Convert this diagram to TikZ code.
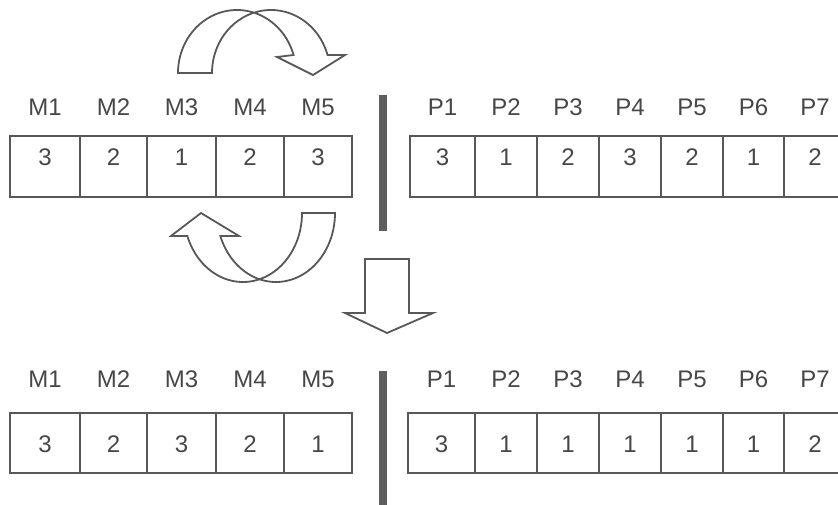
\documentclass[tikz,border=0pt]{standalone}
\usepackage{fontspec}
\setmainfont{Liberation Sans}
\definecolor{boxgray}{HTML}{585858}
\definecolor{txtgray}{HTML}{474747}
\definecolor{bargray}{HTML}{5E5E5E}
\begin{document}
\begin{tikzpicture}[x=1pt,y=-1pt,
  cell/.style={draw=boxgray, line width=1.8pt, inner sep=0pt},
  digit/.style={anchor=base, inner sep=0pt, text=txtgray, font=\fontsize{24}{24}\selectfont},
  tag/.style={anchor=base, inner sep=0pt, text=txtgray, font=\fontsize{24}{24}\selectfont},
  blockarrow/.style={draw=boxgray, line width=1.8pt, fill=white, line join=miter},
  divider/.style={fill=bargray}]
\useasboundingbox (0,0) rectangle (838,504);
\clip (0,0) rectangle (838,504);

% ---- upper chromosome: machine part ----
\foreach \xa/\xb/\val [count=\i] in {10/80/3, 80/147/2, 147/216/1, 216/284/2, 284/352/3} {
  \node[cell, minimum width={(\xb-\xa)*1pt}, minimum height=61pt] (mt\i) at ({(\xa+\xb)/2},166.5) {};
  \node[digit] (mtv\i) at ({(\xa+\xb)/2},165) {\val};
  \node[tag] (mtl\i) at ({(\xa+\xb)/2},115) {M\i};
}
% ---- upper chromosome: part sequence ----
\foreach \xa/\xb/\val [count=\i] in {410/475/3, 475/537/1, 537/599/2, 599/661/3, 661/723/2, 723/784/1, 784/846/2} {
  \node[cell, minimum width={(\xb-\xa)*1pt}, minimum height=61pt] (pt\i) at ({(\xa+\xb)/2},166.5) {};
  \node[digit] (ptv\i) at ({(\xa+\xb)/2},165) {\val};
  \node[tag] (ptl\i) at ({(\xa+\xb)/2},115) {P\i};
}
% ---- lower chromosome: machine part ----
\foreach \xa/\xb/\val [count=\i] in {10/80/3, 80/147/2, 147/216/3, 216/284/2, 284/352/1} {
  \node[cell, minimum width={(\xb-\xa)*1pt}, minimum height=60pt] (mb\i) at ({(\xa+\xb)/2},443) {};
  \node[digit] (mbv\i) at ({(\xa+\xb)/2},452) {\val};
  \node[tag] (mbl\i) at ({(\xa+\xb)/2},387) {M\i};
}
% ---- lower chromosome: part sequence ----
\foreach \xa/\xb/\val [count=\i] in {408/475/3, 475/537/1, 537/599/1, 599/661/1, 661/723/1, 723/784/1, 784/846/2} {
  \node[cell, minimum width={(\xb-\xa)*1pt}, minimum height=60pt] (pb\i) at ({(\xa+\xb)/2},443) {};
  \node[digit] (pbv\i) at ({(\xa+\xb)/2},452) {\val};
  \node[tag] (pbl\i) at ({(\xa+\xb)/2},387) {P\i};
}

% ---- dividers between the two halves ----
\fill[divider] (379,95) rectangle (387,231);
\fill[divider] (379,371) rectangle (387,510);

% ---- curved arrow over the machine part (swap) ----
\draw[blockarrow] (178,73)
  -- plot[domain=180:16.6, samples=70] ({237+59*cos(\x)},{73-63*sin(\x)})
  -- (277,57) -- (313,75) -- (345,55)
  -- plot[domain=16.6:180, samples=70] ({271+59*cos(\x)},{73-63*sin(\x)})
  -- cycle;

% ---- curved arrow under the machine part (swap back) ----
\draw[blockarrow] (302,213) -- (335,213)
  -- plot[domain=0:160.5, samples=70] ({276+59*cos(\x)},{213+69*sin(\x)})
  -- (239,236) -- (201,213) -- (171,236)
  -- plot[domain=160.5:0, samples=70] ({243+59*cos(\x)},{213+69*sin(\x)})
  -- cycle;

% ---- block arrow down to the new chromosome ----
\draw[blockarrow] (365,259) -- (409,259) -- (409,313) -- (433,313)
  -- (387,333) -- (345,313) -- (365,313) -- cycle;
\end{tikzpicture}
\end{document}
